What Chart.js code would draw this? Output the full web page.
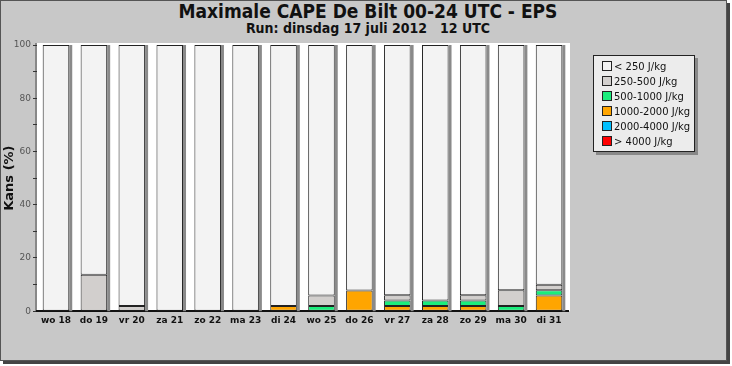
<!DOCTYPE html>
<html>
<head>
<meta charset="utf-8">
<script src="https://cdn.jsdelivr.net/npm/chart.js@4.4.0/dist/chart.umd.min.js"></script>
<style>
  html, body { margin: 0; padding: 0; background: #fff; }
  #frame {
    position: absolute; left: 0; top: 0; width: 725px; height: 359px;
    background: #c8c8c8; border: 1px solid #555;
    box-shadow: 3px 3px 0 #444;
  }
  #wrap { position: absolute; left: 0; top: 0; width: 732px; height: 366px; }
  .ttl {
    position: absolute; left: 0; width: 736px; text-align: center; color: #111;
    font-family: "DejaVu Sans Condensed", "DejaVu Sans", sans-serif; font-weight: bold;
    white-space: pre;
  }
  #t1 { top: 0px; font-size: 19px; }
  #t2 { top: 20px; font-size: 14px; }
  #legend {
    position: absolute; left: 593px; top: 55px; width: 102px; height: 97px;
    background: #ececec; border: 1px solid #222; box-shadow: 3px 3px 0 #888;
    font-family: "DejaVu Sans", sans-serif; font-size: 10px; color: #111;
    box-sizing: border-box; padding: 5px 0 0 8px;
  }
  #legend div { height: 15px; line-height: 11px; white-space: nowrap; }
  #legend span.sw {
    display: inline-block; width: 8px; height: 8px; border: 1px solid #222;
    vertical-align: -1px; margin-right: 2px;
  }
</style>
</head>
<body>
<div id="frame"></div>
<div id="t1" class="ttl">Maximale CAPE De Bilt 00-24 UTC - EPS</div>
<div id="t2" class="ttl">Run: dinsdag 17 juli 2012   12 UTC</div>
<div id="wrap"><canvas id="cape" width="732" height="366"></canvas></div>
<div id="legend"></div>
<script>
const days = ['wo 18','do 19','vr 20','za 21','zo 22','ma 23','di 24','wo 25','do 26','vr 27','za 28','zo 29','ma 30','di 31'];
// kans (%) per klasse, 51 leden -> 1 lid = ~1.96%
const gt4000   = [0, 0, 0, 0, 0, 0, 0, 0, 0, 0, 0, 0, 0, 0];
const c2000    = [0, 0, 0, 0, 0, 0, 0, 0, 0, 0, 0, 0, 0, 0];
const c1000    = [0, 0, 0, 0, 0, 0, 2, 0, 7.8, 2, 2, 2, 0, 5.9];
const c500     = [0, 0, 0, 0, 0, 0, 0, 2, 0, 2, 2, 2, 2, 2];
const c250     = [0, 13.7, 2, 0, 0, 0, 0, 3.9, 0, 2, 0, 2, 5.9, 2];
const lt250    = [100, 86.3, 98, 100, 100, 100, 98, 94.1, 92.2, 94, 96, 94, 92.1, 90.1];
const yTicks = [0, 10, 20, 30, 40, 50, 60, 70, 80, 90, 100];

const series = [
  { label: '> 4000 J/kg', data: gt4000, color: '#ff0000' },
  { label: '2000-4000 J/kg', data: c2000, color: '#00bfff' },
  { label: '1000-2000 J/kg', data: c1000, color: '#ffa500' },
  { label: '500-1000 J/kg', data: c500, color: '#1aee7c' },
  { label: '250-500 J/kg', data: c250, color: '#d2cfcd' },
  { label: '< 250 J/kg', data: lt250, color: '#f3f3f3' }
];

const legendEl = document.getElementById('legend');
series.slice().reverse().forEach(s => {
  const row = document.createElement('div');
  row.innerHTML = '<span class="sw" style="background:' + s.color + '"></span>' + s.label;
  legendEl.appendChild(row);
});

const plotBg = {
  id: 'plotBg',
  beforeDraw(chart) {
    const { ctx, chartArea: a } = chart;
    ctx.save();
    ctx.fillStyle = '#ffffff';
    ctx.fillRect(a.left, a.top - 2, a.right - a.left + 2, a.bottom - a.top + 2);
    ctx.fillStyle = '#888';
    ctx.fillRect(a.left - 2, a.top - 2, 2, a.bottom - a.top + 2);
    ctx.restore();
  },
  beforeDatasetsDraw(chart) {
    // grijze schaduw rechts van elke kolom
    const { ctx } = chart;
    const meta = chart.getDatasetMeta(chart.data.datasets.length - 1);
    const base = chart.scales.y.getPixelForValue(0);
    const top = chart.scales.y.getPixelForValue(100);
    ctx.save();
    ctx.fillStyle = '#8a8a8a';
    meta.data.forEach(el => {
      ctx.fillRect(el.x + el.width / 2, top, 3, base - top);
    });
    ctx.restore();
  }
};

new Chart(document.getElementById('cape'), {
  type: 'bar',
  data: {
    labels: days,
    datasets: series.map(s => ({
      label: s.label,
      data: s.data.map(v => (v === 0 ? null : v)),
      backgroundColor: s.color,
      borderColor: '#222',
      borderWidth: 1,
      borderSkipped: false,
      categoryPercentage: 0.7,
      barPercentage: 1.0
    }))
  },
  options: {
    responsive: false,
    animation: false,
    layout: { padding: { left: 2, right: 164, top: 45, bottom: 36 } },
    plugins: {
      legend: { display: false },
      tooltip: { enabled: false }
    },
    scales: {
      x: {
        stacked: true,
        grid: { display: false, drawTicks: false },
        border: { display: true, color: '#111', width: 2 },
        ticks: {
          color: '#111',
          padding: 4,
          maxRotation: 0,
          minRotation: 0,
          autoSkip: false,
          font: { family: 'DejaVu Sans', size: 9, weight: 'bold' }
        }
      },
      y: {
        stacked: true,
        min: 0,
        max: 100,
        afterFit(s) { s.width = 35; },
        afterBuildTicks(s) { s.ticks = yTicks.map(v => ({ value: v })); },
        grid: { drawOnChartArea: false, drawTicks: true, tickLength: 4, color: '#333' },
        border: { display: false },
        title: {
          display: true,
          text: 'Kans (%)',
          color: '#111',
          padding: 0,
          font: { family: 'DejaVu Sans', size: 13, weight: 'bold' }
        },
        ticks: {
          color: '#555',
          padding: 2,
          font: { family: 'DejaVu Sans', size: 9 },
          callback: v => (v % 20 === 0 ? v : '')
        }
      }
    }
  },
  plugins: [plotBg]
});
</script>
</body>
</html>
